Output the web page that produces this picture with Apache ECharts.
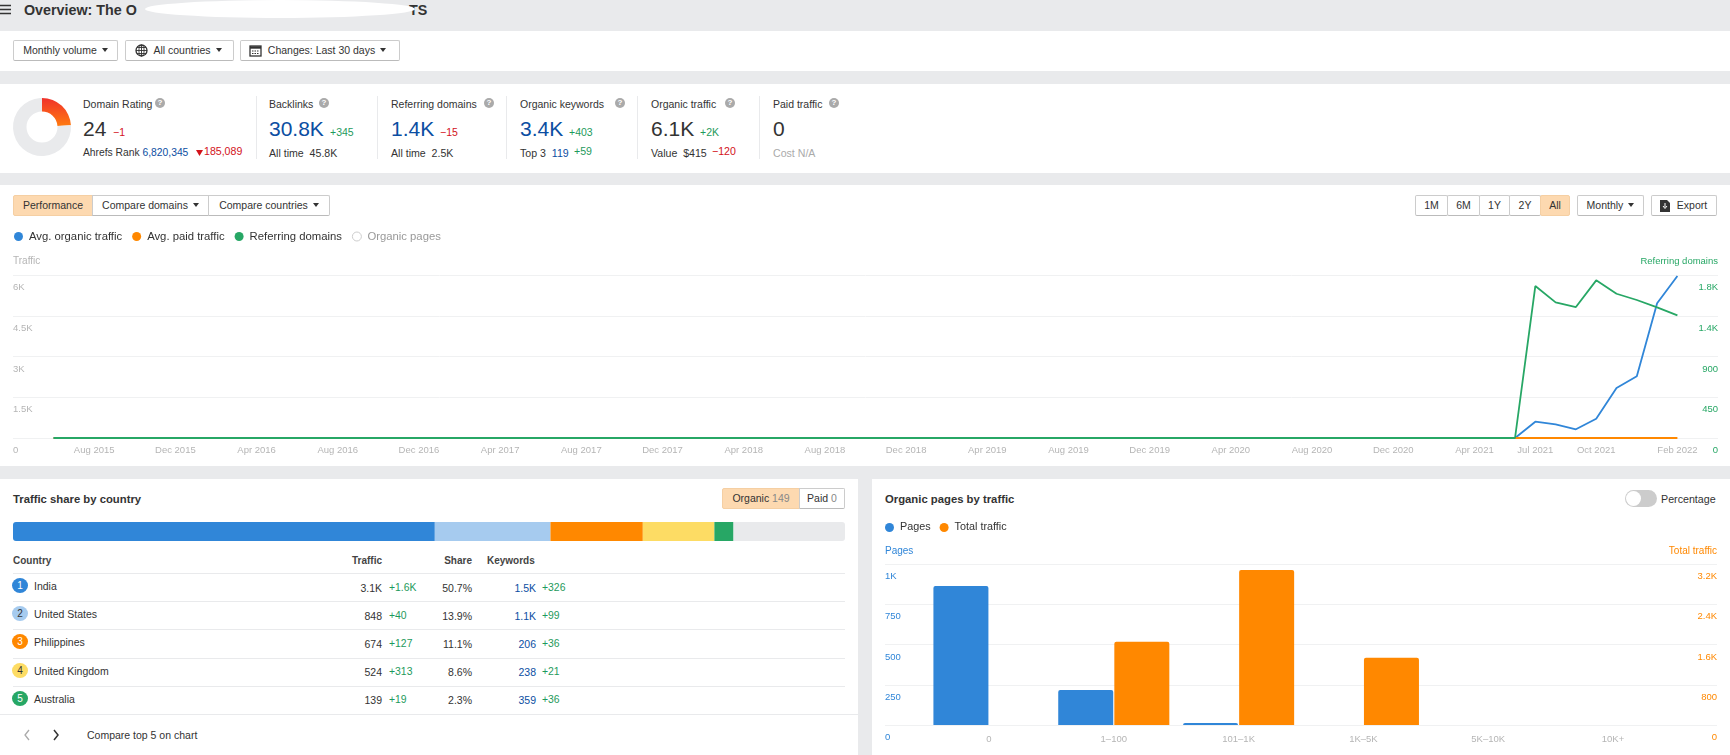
<!DOCTYPE html>
<html lang="en">

<head>
  <meta charset="UTF-8">
  <title>Overview</title>
  <script src="https://cdn.jsdelivr.net/npm/echarts@6/dist/echarts.min.js"></script>
  <style>
    html, body { margin: 0; padding: 0; }
    body {
      position: relative;
      width: 1730px;
      height: 755px;
      overflow: hidden;
      background: #fff;
      color: #333;
      font-family: "Liberation Sans", Arial, sans-serif;
      font-size: 10.5px;
    }
    .band { position: absolute; left: 0; width: 1730px; background: #e9eaec; }
    .t { position: absolute; white-space: nowrap; line-height: 14px; height: 14px; }
    .sub { font-size: 10.6px; top: 146px; }
    .btn {
      position: absolute;
      box-sizing: border-box;
      border: 1px solid #ccc;
      border-bottom-color: #bbb;
      border-radius: 2px;
      background: #fff;
      text-align: center;
      white-space: nowrap;
    }
    .on { background: #fdd9b0; border-color: #f5cfa3; }
    .caret {
      display: inline-block;
      width: 0;
      height: 0;
      margin-left: 5px;
      vertical-align: 2px;
      border-left: 3px solid transparent;
      border-right: 3px solid transparent;
      border-top: 4px solid #333;
    }
    .sep { position: absolute; width: 1px; top: 96px; height: 63px; background: #e9eaec; }
    .help {
      position: absolute;
      width: 10px;
      height: 10px;
      top: 98px;
      border-radius: 50%;
      background: #aaa;
      color: #fff;
      font-size: 8px;
      font-weight: bold;
      line-height: 10px;
      text-align: center;
    }
    .big { font-size: 21px; line-height: 24px; height: 24px; }
    .blue { color: #0b4ea2; }
    .green { color: #1e9a5c; }
    .red { color: #d3121a; }
    .grey { color: #aaa; }
    .row { position: absolute; left: 13px; width: 832px; height: 1px; background: #e9eaec; }
    .num { position: absolute; width: 16px; height: 15px; border-radius: 50%; text-align: center; line-height: 15px; font-size: 10px; }
    .chart { position: absolute; }
  </style>
</head>

<body>
  <!-- page bands -->
  <div class="band" style="top:0;height:31px"></div>
  <div class="band" style="top:71px;height:13px"></div>
  <div class="band" style="top:173px;height:12px"></div>
  <div class="band" style="top:466px;height:13px"></div>
  <div class="band" style="top:479px;height:276px;left:858px;width:14px"></div>

  <!-- header -->
  <svg style="position:absolute;left:0;top:4px" width="12" height="11"><path d="M0 1.5h11M0 5.5h11M0 9.5h11" stroke="#333" stroke-width="1.6"/></svg>
  <div class="t" style="left:24px;top:3px;font-size:14.3px;font-weight:bold">Overview: The O</div>
  <div class="t" style="left:409px;top:3px;font-size:14.3px;font-weight:bold">TS</div>
  <div style="position:absolute;left:145px;top:0;width:270px;height:18px;background:#fff;border-radius:135px / 9px"></div>

  <!-- filters -->
  <div class="btn" style="left:13px;top:40px;width:105px;height:21px;line-height:19px">Monthly volume<span class="caret"></span></div>
  <div class="btn" style="left:125px;top:40px;width:109px;height:21px;line-height:19px;padding-left:16px">
    <svg style="position:absolute;left:9px;top:3px" width="13" height="13" viewBox="0 0 13 13"><circle cx="6.5" cy="6.5" r="5.5" fill="none" stroke="#333" stroke-width="1.3"/><path d="M1 6.5h11M6.5 1v11M2 3.5h9M2 9.5h9" stroke="#333" stroke-width=".9"/><ellipse cx="6.5" cy="6.5" rx="2.6" ry="5.5" fill="none" stroke="#333" stroke-width=".9"/></svg>
    All countries<span class="caret"></span></div>
  <div class="btn" style="left:240px;top:40px;width:160px;height:21px;line-height:19px;padding-left:14px">
    <svg style="position:absolute;left:8px;top:3px" width="13" height="13" viewBox="0 0 13 13"><rect x="1" y="2" width="11" height="10" fill="none" stroke="#333" stroke-width="1.3"/><path d="M1 3.5h11" stroke="#333" stroke-width="2.4"/><path d="M3 7h7M3 9.5h7" stroke="#333" stroke-width="1.2" stroke-dasharray="1.5 1"/></svg>
    Changes: Last 30 days<span class="caret"></span></div>

  <!-- metrics -->
  <div id="drBox" class="chart" style="left:10px;top:95px;width:64px;height:64px"></div>

  <div class="t" style="left:83px;top:97px">Domain Rating</div><div class="help" style="left:155px">?</div>
  <div class="t big" style="left:83px;top:117px">24</div><div class="t red" style="left:113px;top:125px">&minus;1</div>
  <div class="t sub" style="left:83px;font-size:10.3px">Ahrefs Rank <span class="blue">6,820,345</span></div>
  <svg style="position:absolute;left:196px;top:150px" width="7" height="6"><path d="M0 0h7L3.5 6z" fill="#d3121a"/></svg>
  <div class="t red" style="left:204px;top:144px;font-size:10.6px">185,089</div>
  <div class="sep" style="left:256px"></div>

  <div class="t" style="left:269px;top:97px">Backlinks</div><div class="help" style="left:319px">?</div>
  <div class="t big blue" style="left:269px;top:117px">30.8K</div><div class="t green" style="left:330px;top:125px">+345</div>
  <div class="t sub" style="left:269px">All time&nbsp; 45.8K</div>
  <div class="sep" style="left:377px"></div>

  <div class="t" style="left:391px;top:97px">Referring domains</div><div class="help" style="left:484px">?</div>
  <div class="t big blue" style="left:391px;top:117px">1.4K</div><div class="t red" style="left:440px;top:125px">&minus;15</div>
  <div class="t sub" style="left:391px">All time&nbsp; 2.5K</div>
  <div class="sep" style="left:506px"></div>

  <div class="t" style="left:520px;top:97px">Organic keywords</div><div class="help" style="left:615px">?</div>
  <div class="t big blue" style="left:520px;top:117px">3.4K</div><div class="t green" style="left:569px;top:125px">+403</div>
  <div class="t sub" style="left:520px">Top 3&nbsp; <span class="blue">119</span></div><div class="t green" style="left:574px;top:144px;font-size:10.6px">+59</div>
  <div class="sep" style="left:637px"></div>

  <div class="t" style="left:651px;top:97px">Organic traffic</div><div class="help" style="left:725px">?</div>
  <div class="t big" style="left:651px;top:117px">6.1K</div><div class="t green" style="left:700px;top:125px">+2K</div>
  <div class="t sub" style="left:651px">Value&nbsp; $415</div><div class="t red" style="left:712px;top:144px;font-size:10.6px">&minus;120</div>
  <div class="sep" style="left:759px"></div>

  <div class="t" style="left:773px;top:97px">Paid traffic</div><div class="help" style="left:829px">?</div>
  <div class="t big" style="left:773px;top:117px">0</div>
  <div class="t sub grey" style="left:773px">Cost N/A</div>

  <!-- performance toolbar -->
  <div class="btn on" style="left:13px;top:195px;width:80px;height:21px;line-height:19px;border-radius:2px 0 0 2px">Performance</div>
  <div class="btn" style="left:92px;top:195px;width:117px;height:21px;line-height:19px;border-radius:0">Compare domains<span class="caret"></span></div>
  <div class="btn" style="left:208px;top:195px;width:122px;height:21px;line-height:19px;border-radius:0 2px 2px 0">Compare countries<span class="caret"></span></div>

  <div class="btn" style="left:1415px;top:195px;width:33px;height:21px;line-height:19px">1M</div>
  <div class="btn" style="left:1447px;top:195px;width:33px;height:21px;line-height:19px">6M</div>
  <div class="btn" style="left:1479px;top:195px;width:31px;height:21px;line-height:19px">1Y</div>
  <div class="btn" style="left:1509px;top:195px;width:32px;height:21px;line-height:19px">2Y</div>
  <div class="btn on" style="left:1540px;top:195px;width:30px;height:21px;line-height:19px">All</div>
  <div class="btn" style="left:1577px;top:195px;width:67px;height:21px;line-height:19px">Monthly<span class="caret"></span></div>
  <div class="btn" style="left:1651px;top:195px;width:66px;height:21px;line-height:19px;padding-left:16px">
    <svg style="position:absolute;left:8px;top:4px" width="10" height="12" viewBox="0 0 10 12"><path d="M0 0h7l3 3v9H0z" fill="#333"/><path d="M5 3v4M3 6l2 2.5L7 6" stroke="#fff" fill="none"/></svg>
    Export</div>

  <div id="trafficBox" class="chart" style="left:0;top:225px;width:1730px;height:241px"></div>

  <!-- country panel -->
  <div class="t" style="left:13px;top:492px;font-size:11.3px;font-weight:bold">Traffic share by country</div>
  <div class="btn on" style="left:722px;top:488px;width:78px;height:21px;line-height:19px;border-radius:2px 0 0 2px">Organic <span style="color:#888">149</span></div>
  <div class="btn" style="left:799px;top:488px;width:46px;height:21px;line-height:19px;border-radius:0 2px 2px 0">Paid <span style="color:#888">0</span></div>
  <div id="shareBox" class="chart" style="left:13px;top:522px;width:832px;height:19px"></div>
  <div id="countryTable"></div>
  <div style="position:absolute;left:0;top:714px;width:858px;height:1px;background:#e9eaec"></div>
  <svg style="position:absolute;left:23px;top:729px" width="40" height="12"><path d="M6 1L2 6l4 5" fill="none" stroke="#aaa" stroke-width="1.3"/><path d="M31 1l4 5-4 5" fill="none" stroke="#333" stroke-width="1.5"/></svg>
  <div class="t" style="left:87px;top:728px">Compare top 5 on chart</div>

  <!-- pages panel -->
  <div class="t" style="left:885px;top:492px;font-size:11.3px;font-weight:bold">Organic pages by traffic</div>
  <div style="position:absolute;left:1625px;top:490px;width:32px;height:17px;border-radius:9px;background:#ccc"></div>
  <div style="position:absolute;left:1626px;top:491px;width:15px;height:15px;border-radius:50%;background:#fff"></div>
  <div class="t" style="left:1661px;top:492px;font-size:10.7px">Percentage</div>
  <div id="pagesBox" class="chart" style="left:872px;top:515px;width:858px;height:240px"></div>

  <script>
    const colors = {
      blue: '#3086d8',
      light: '#a6cbef',
      orange: '#ff8800',
      yellow: '#fddc64',
      green: '#27a765',
      track: '#e9eaec',
      split: '#f0f1f2',
      tick: '#b5b5b5'
    }
    const fontFamily = '"Liberation Sans", Arial, sans-serif'

    // 国家表格
    const countries = [
      { name: 'India', traffic: '3.1K', trafficDelta: '+1.6K', share: 50.7, keywords: '1.5K', keywordsDelta: '+326', color: colors.blue, text: '#fff' },
      { name: 'United States', traffic: '848', trafficDelta: '+40', share: 13.9, keywords: '1.1K', keywordsDelta: '+99', color: colors.light, text: '#333' },
      { name: 'Philippines', traffic: '674', trafficDelta: '+127', share: 11.1, keywords: '206', keywordsDelta: '+36', color: colors.orange, text: '#fff' },
      { name: 'United Kingdom', traffic: '524', trafficDelta: '+313', share: 8.6, keywords: '238', keywordsDelta: '+21', color: colors.yellow, text: '#333' },
      { name: 'Australia', traffic: '139', trafficDelta: '+19', share: 2.3, keywords: '359', keywordsDelta: '+36', color: colors.green, text: '#fff' }
    ]
    const rowLines = [573, 601, 629, 658, 686]
    const rowText = [586, 614, 642, 671, 699]
    const rowNums = [588, 616, 644, 672, 700]

    let tableHtml = `
      <div class="t" style="left:13px;top:554px;font-size:10px;font-weight:bold;color:#444">Country</div>
      <div class="t" style="left:282px;width:100px;text-align:right;top:554px;font-size:10px;font-weight:bold;color:#444">Traffic</div>
      <div class="t" style="left:372px;width:100px;text-align:right;top:554px;font-size:10px;font-weight:bold;color:#444">Share</div>
      <div class="t" style="left:487px;top:554px;font-size:10px;font-weight:bold;color:#444">Keywords</div>`
    countries.forEach(function (c, i) {
      tableHtml += `
      <div class="row" style="top:${rowLines[i]}px"></div>
      <div class="num" style="left:12px;top:${rowText[i] - 8}px;background:${c.color};color:${c.text}">${i + 1}</div>
      <div class="t" style="left:34px;top:${rowText[i] - 7}px">${c.name}</div>
      <div class="t" style="left:282px;width:100px;text-align:right;top:${rowNums[i] - 7}px">${c.traffic}</div>
      <div class="t green" style="left:389px;top:${rowNums[i] - 7}px;font-size:10.4px">${c.trafficDelta}</div>
      <div class="t" style="left:372px;width:100px;text-align:right;top:${rowNums[i] - 7}px">${c.share}%</div>
      <div class="t blue" style="left:436px;width:100px;text-align:right;top:${rowNums[i] - 7}px">${c.keywords}</div>
      <div class="t green" style="left:542px;top:${rowNums[i] - 7}px;font-size:10.4px">${c.keywordsDelta}</div>`
    })
    document.getElementById('countryTable').innerHTML = tableHtml

    // Domain Rating 圆环
    echarts.init(document.getElementById('drBox')).setOption({
      animation: false,
      series: [{
        type: 'pie',
        silent: true,
        center: [32, 32],
        radius: [15.5, 29],
        startAngle: 90,
        label: { show: false },
        data: [
          {
            value: 24,
            itemStyle: {
              color: new echarts.graphic.LinearGradient(0, 0, 0, 1, [
                { offset: 0, color: '#f0312b' },
                { offset: 1, color: '#ff7a0f' }
              ])
            }
          },
          { value: 76, itemStyle: { color: colors.track } }
        ]
      }]
    })

    // 流量折线图：前后各留两个月空白
    const monthNames = ['Jan', 'Feb', 'Mar', 'Apr', 'May', 'Jun', 'Jul', 'Aug', 'Sep', 'Oct', 'Nov', 'Dec']
    const months = []
    for (let i = 0; i < 85; i++) {
      const m = 3 + i
      months.push(monthNames[m % 12] + ' ' + (2015 + Math.floor(m / 12)))
    }
    const shownMonths = ['Aug 2015', 'Dec 2015', 'Apr 2016', 'Aug 2016', 'Dec 2016', 'Apr 2017', 'Aug 2017', 'Dec 2017',
      'Apr 2018', 'Aug 2018', 'Dec 2018', 'Apr 2019', 'Aug 2019', 'Dec 2019', 'Apr 2020', 'Aug 2020', 'Dec 2020',
      'Apr 2021', 'Jul 2021', 'Oct 2021', 'Feb 2022']
    const organicTraffic = [null, null,
      0, 0, 0, 0, 0, 0, 0, 0, 0, 0,
      0, 0, 0, 0, 0, 0, 0, 0, 0, 0,
      0, 0, 0, 0, 0, 0, 0, 0, 0, 0,
      0, 0, 0, 0, 0, 0, 0, 0, 0, 0,
      0, 0, 0, 0, 0, 0, 0, 0, 0, 0,
      0, 0, 0, 0, 0, 0, 0, 0, 0, 0,
      0, 0, 0, 0, 0, 0, 0, 0, 0, 0,
      0, 0, 0,
      600, 504, 320, 711, 1840, 2270, 4957, 5960, null, null]
    const paidTraffic = [null, null,
      0, 0, 0, 0, 0, 0, 0, 0, 0, 0,
      0, 0, 0, 0, 0, 0, 0, 0, 0, 0,
      0, 0, 0, 0, 0, 0, 0, 0, 0, 0,
      0, 0, 0, 0, 0, 0, 0, 0, 0, 0,
      0, 0, 0, 0, 0, 0, 0, 0, 0, 0,
      0, 0, 0, 0, 0, 0, 0, 0, 0, 0,
      0, 0, 0, 0, 0, 0, 0, 0, 0, 0,
      0, 0, 0,
      0, 0, 0, 0, 0, 0, 0, 0, null, null]
    const referringDomains = [null, null,
      0, 0, 0, 0, 0, 0, 0, 0, 0, 0,
      0, 0, 0, 0, 0, 0, 0, 0, 0, 0,
      0, 0, 0, 0, 0, 0, 0, 0, 0, 0,
      0, 0, 0, 0, 0, 0, 0, 0, 0, 0,
      0, 0, 0, 0, 0, 0, 0, 0, 0, 0,
      0, 0, 0, 0, 0, 0, 0, 0, 0, 0,
      0, 0, 0, 0, 0, 0, 0, 0, 0, 0,
      0, 0, 0,
      1678, 1498, 1446, 1741, 1593, 1524, 1443, 1355, null, null]

    const shortNum = function (val) {
      return val >= 1000 ? +(val / 1000).toFixed(1) + 'K' : val
    }
    const insideLabel = function (color, formatter, offset) {
      return {
        inside: true,
        margin: 0,
        color: color,
        fontSize: 9.5,
        fontFamily: fontFamily,
        verticalAlign: 'top',
        padding: [offset, 0, 0, 0],
        formatter: formatter
      }
    }
    const lineSeries = function (name, color, data, yAxisIndex) {
      return {
        name: name,
        type: 'line',
        yAxisIndex: yAxisIndex,
        showSymbol: false,
        symbol: 'none',
        lineStyle: { color: color, width: 1.8 },
        itemStyle: { color: color },
        data: data
      }
    }

    echarts.init(document.getElementById('trafficBox')).setOption({
      animation: false,
      legend: {
        left: 14,
        top: 6,
        padding: 0,
        icon: 'circle',
        itemWidth: 11,
        itemHeight: 9,
        itemGap: 10,
        textStyle: { color: '#333', fontSize: 11.3, fontFamily: fontFamily },
        data: [
          'Avg. organic traffic',
          'Avg. paid traffic',
          'Referring domains',
          {
            name: 'Organic pages',
            itemStyle: { color: '#fff', borderColor: '#ccc', borderWidth: 1 },
            textStyle: { color: '#999' }
          }
        ]
      },
      grid: { left: 13, right: 12, top: 50, height: 163 },
      xAxis: {
        type: 'category',
        boundaryGap: false,
        data: months,
        axisLine: { show: false },
        axisTick: { show: false },
        splitLine: { show: false },
        axisLabel: {
          color: colors.tick,
          fontSize: 9.5,
          fontFamily: fontFamily,
          margin: 7,
          interval: function (index, value) {
            return shownMonths.indexOf(value) > -1
          }
        }
      },
      yAxis: [
        {
          type: 'value',
          name: 'Traffic',
          nameGap: 9,
          nameTextStyle: { color: colors.tick, fontSize: 10, fontFamily: fontFamily, align: 'left' },
          min: 0,
          max: 6000,
          interval: 1500,
          axisLine: { show: false },
          axisTick: { show: false },
          splitLine: { lineStyle: { color: colors.split } },
          axisLabel: insideLabel(colors.tick, shortNum, 7.5)
        },
        {
          type: 'value',
          name: 'Referring domains',
          nameGap: 9,
          nameTextStyle: { color: colors.green, fontSize: 9.5, fontFamily: fontFamily, align: 'right' },
          position: 'right',
          min: 0,
          max: 1800,
          interval: 450,
          axisLine: { show: false },
          axisTick: { show: false },
          splitLine: { show: false },
          axisLabel: insideLabel(colors.green, shortNum, 7.5)
        }
      ],
      series: [
        lineSeries('Avg. organic traffic', colors.blue, organicTraffic, 0),
        lineSeries('Avg. paid traffic', colors.orange, paidTraffic, 0),
        lineSeries('Referring domains', colors.green, referringDomains, 1),
        lineSeries('Organic pages', '#ccc', [], 0)
      ]
    })

    // 国家占比条
    const shareSeries = countries.map(function (c, i) {
      return {
        name: c.name,
        type: 'bar',
        stack: 'share',
        barWidth: '100%',
        silent: true,
        itemStyle: { color: c.color, borderRadius: i === 0 ? [3, 0, 0, 3] : 0 },
        data: [c.share]
      }
    })
    shareSeries.push({
      name: 'Other',
      type: 'bar',
      stack: 'share',
      barWidth: '100%',
      silent: true,
      itemStyle: { color: colors.track, borderRadius: [0, 3, 3, 0] },
      data: [13.4]
    })
    echarts.init(document.getElementById('shareBox')).setOption({
      animation: false,
      grid: { left: 0, right: 0, top: 0, bottom: 0 },
      xAxis: { type: 'value', min: 0, max: 100, show: false },
      yAxis: { type: 'category', data: ['Share'], show: false },
      series: shareSeries
    })

    // 页面柱状图
    const buckets = ['0', '1\u2013100', '101\u20131K', '1K\u20135K', '5K\u201310K', '10K+']
    const pagesVal = [[0, 863], [1, 217], [2, 13], [3, 0], [4, 0], [5, 0]]
    const totalVal = [[0, 0], [1, 1656], [2, 3081], [3, 1338], [4, 0], [5, 0]]

    echarts.init(document.getElementById('pagesBox')).setOption({
      animation: false,
      legend: {
        left: 13,
        top: 7,
        padding: 0,
        icon: 'circle',
        itemWidth: 11,
        itemHeight: 9,
        itemGap: 9,
        textStyle: { color: '#333', fontSize: 10.8, fontFamily: fontFamily }
      },
      grid: { left: 13, right: 13, top: 49, height: 161 },
      xAxis: {
        type: 'value',
        min: -0.833,
        max: 5.833,
        axisLine: { show: false },
        axisTick: { show: false },
        splitLine: { show: false },
        axisLabel: {
          customValues: [0, 1, 2, 3, 4, 5],
          color: colors.tick,
          fontSize: 9.5,
          fontFamily: fontFamily,
          margin: 9,
          formatter: function (val) {
            return buckets[val]
          }
        }
      },
      yAxis: [
        {
          type: 'value',
          name: 'Pages',
          nameGap: 8,
          nameTextStyle: { color: colors.blue, fontSize: 10, fontFamily: fontFamily, align: 'left' },
          min: 0,
          max: 1000,
          interval: 250,
          axisLine: { show: false, onZero: false },
          axisTick: { show: false },
          splitLine: { lineStyle: { color: colors.split } },
          axisLabel: insideLabel(colors.blue, shortNum, 7.5)
        },
        {
          type: 'value',
          name: 'Total traffic',
          nameGap: 8,
          nameTextStyle: { color: colors.orange, fontSize: 10, fontFamily: fontFamily, align: 'right' },
          position: 'right',
          min: 0,
          max: 3200,
          interval: 800,
          axisLine: { show: false, onZero: false },
          axisTick: { show: false },
          splitLine: { show: false },
          axisLabel: insideLabel(colors.orange, shortNum, 7.5)
        }
      ],
      series: [
        {
          name: 'Pages',
          type: 'bar',
          yAxisIndex: 0,
          barWidth: 55,
          barGap: '2%',
          itemStyle: { color: colors.blue, borderRadius: [2, 2, 0, 0] },
          data: pagesVal
        },
        {
          name: 'Total traffic',
          type: 'bar',
          yAxisIndex: 1,
          barWidth: 55,
          itemStyle: { color: colors.orange, borderRadius: [2, 2, 0, 0] },
          data: totalVal
        }
      ]
    })
  </script>
</body>

</html>
